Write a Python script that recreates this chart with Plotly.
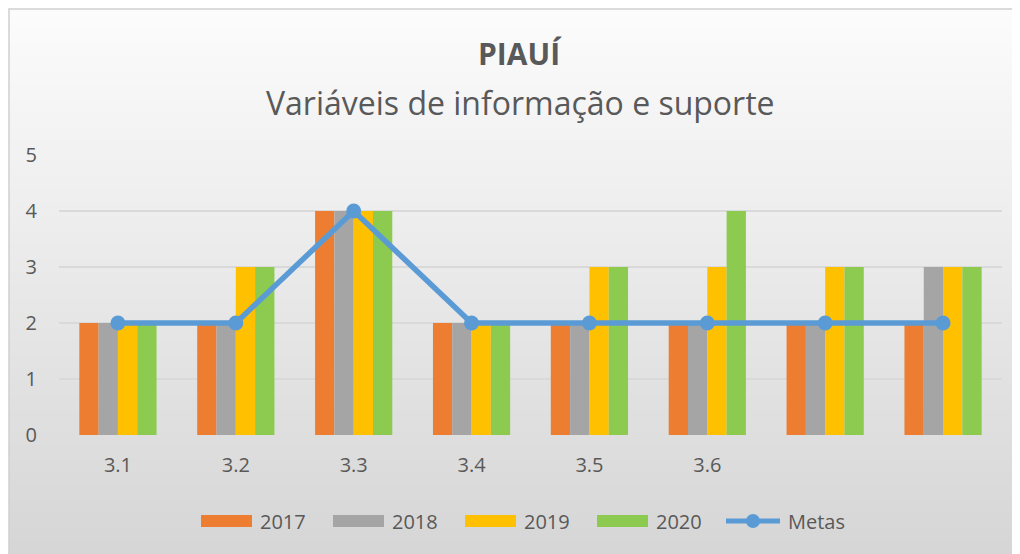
import plotly.graph_objects as go

categories = ["3.1", "3.2", "3.3", "3.4", "3.5", "3.6", "", ""]
v2017 = [2, 2, 4, 2, 2, 2, 2, 2]
v2018 = [2, 2, 4, 2, 2, 2, 2, 3]
v2019 = [2, 3, 4, 2, 3, 3, 3, 3]
v2020 = [2, 3, 4, 2, 3, 4, 3, 3]
metas = [2, 2, 4, 2, 2, 2, 2, 2]
series_names = ["2017", "2018", "2019", "2020"]
line_name = "Metas"

W, H = 1020, 554
L, R, T, B = 51, 26, 147, 127
x_idx = list(range(len(categories)))

colors = ["#ED7D31", "#A5A5A5", "#FFC000", "#8CCB4F"]
line_color = "#5B9BD5"
text_color = "#595959"
series = [v2017, v2018, v2019, v2020]

fig = go.Figure()
for name, vals, col in zip(series_names, series, colors):
    fig.add_trace(go.Bar(x=x_idx, y=vals, name=name, marker=dict(color=col, line=dict(width=0))))
fig.add_trace(go.Scatter(x=x_idx, y=metas, name=line_name, mode="lines+markers",
                         line=dict(color=line_color, width=5.5), marker=dict(size=15, color=line_color)))

pw, ph = W - L - R, H - T - B
def px(x): return (x - L) / pw
def py(y): return (H - B - y) / ph

shapes = []
n = 80
top, bot = 1, H
c0, c1 = (252, 252, 252), (213, 213, 213)
for i in range(n):
    y0 = top + (bot - top) * i / n
    y1 = top + (bot - top) * (i + 1) / n + 1
    t = (i + 0.5) / n
    c = tuple(round(c0[k] + (c1[k] - c0[k]) * t) for k in range(3))
    shapes.append(dict(type="rect", xref="paper", yref="paper", x0=px(1), x1=px(W + 2), y0=py(y0),
                       y1=py(min(y1, H + 2)), fillcolor="rgb(%d,%d,%d)" % c, line=dict(width=0), layer="below"))
shapes.append(dict(type="rect", xref="paper", yref="paper", x0=px(1), x1=px(W + 5), y0=py(1), y1=py(H + 5),
                   fillcolor="rgba(0,0,0,0)", line=dict(width=1.5, color="#D0D0D0"), layer="below"))

annotations = [
    dict(text="<b>PIAUÍ</b>", xref="paper", yref="paper", x=px(512), y=py(46), xanchor="center", yanchor="middle",
         showarrow=False, font=dict(size=30, color=text_color, family="Open Sans")),
    dict(text="Variáveis de informação e suporte", xref="paper", yref="paper", x=px(512), y=py(94),
         xanchor="center", yanchor="middle", showarrow=False,
         font=dict(size=32, color=text_color, family="Open Sans")),
]

# custom legend (wide swatches like the original)
leg_x0, leg_pitch, leg_y = 193, 132, 513
sw_w, sw_h, txt_off = 51, 12, 57
for i, (name, col) in enumerate(zip(series_names, colors)):
    x0 = leg_x0 + i * leg_pitch
    shapes.append(dict(type="rect", xref="paper", yref="paper", x0=px(x0), x1=px(x0 + sw_w),
                       y0=py(leg_y - sw_h / 2), y1=py(leg_y + sw_h / 2), fillcolor=col, line=dict(width=0)))
    annotations.append(dict(text=name, xref="paper", yref="paper", x=px(x0 + txt_off), y=py(leg_y),
                            xanchor="left", yanchor="middle", showarrow=False,
                            font=dict(size=20, color=text_color, family="Open Sans")))
mx0 = leg_x0 + len(series_names) * leg_pitch - 3
shapes.append(dict(type="line", xref="paper", yref="paper", x0=px(mx0), x1=px(mx0 + 54), y0=py(leg_y), y1=py(leg_y),
                   line=dict(color=line_color, width=5)))
shapes.append(dict(type="circle", xref="paper", yref="paper", x0=px(mx0 + 27 - 7), x1=px(mx0 + 27 + 7),
                   y0=py(leg_y - 7), y1=py(leg_y + 7), fillcolor=line_color, line=dict(width=0)))
annotations.append(dict(text=line_name, xref="paper", yref="paper", x=px(mx0 + 60), y=py(leg_y),
                        xanchor="left", yanchor="middle", showarrow=False,
                        font=dict(size=20, color=text_color, family="Open Sans")))

fig.update_layout(
    width=W, height=H,
    margin=dict(l=L, r=R, t=T, b=B),
    paper_bgcolor="white", plot_bgcolor="rgba(0,0,0,0)",
    barmode="group", bargap=0.345, bargroupgap=0,
    font=dict(family="Open Sans", color=text_color),
    shapes=shapes, annotations=annotations,
    showlegend=False,
)
fig.update_xaxes(tickvals=x_idx, ticktext=categories, range=[-0.5, len(categories) - 0.5],
                 showgrid=False, zeroline=False, showline=False,
                 ticks="outside", ticklen=12, tickcolor="rgba(0,0,0,0)",
                 tickfont=dict(size=20, color=text_color))
fig.update_yaxes(range=[0, 5], dtick=1, showgrid=True, gridcolor="#D9D9D9", gridwidth=1.5,
                 zeroline=False, showline=False,
                 ticks="outside", ticklen=17, tickcolor="rgba(0,0,0,0)",
                 tickfont=dict(size=20, color=text_color))

fig.write_html("out.html")
